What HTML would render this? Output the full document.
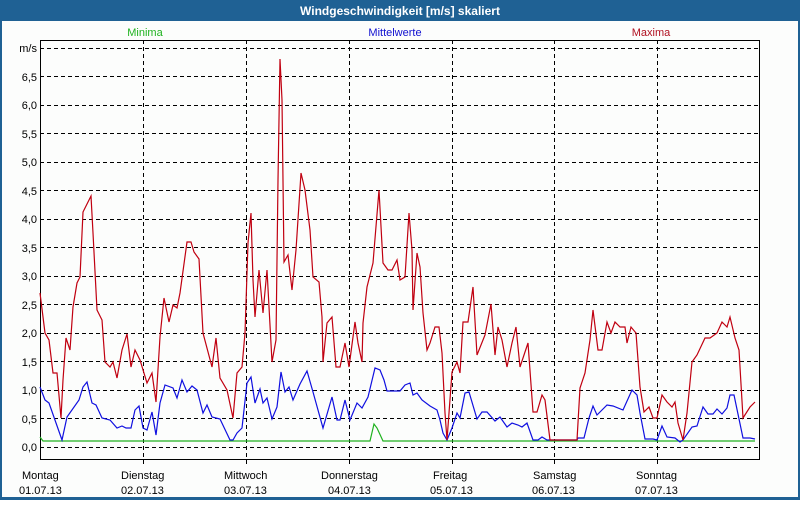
<!DOCTYPE html>
<html><head><meta charset="utf-8"><style>
body{margin:0;width:800px;height:500px;overflow:hidden;background:#fff;font-family:"Liberation Sans",sans-serif;}
</style></head><body>
<svg width="800" height="500" xmlns="http://www.w3.org/2000/svg" font-family="Liberation Sans, sans-serif">
<rect x="0" y="0" width="800" height="500" fill="#1f6194"/>
<rect x="2" y="21" width="796" height="476" fill="#fcfdfc"/>
<text x="400" y="15" fill="#fff" font-size="12" font-weight="bold" text-anchor="middle">Windgeschwindigkeit [m/s] skaliert</text>
<text x="145" y="36" fill="#1fb21f" font-size="11" text-anchor="middle">Minima</text>
<text x="395" y="36" fill="#1010d0" font-size="11" text-anchor="middle">Mittelwerte</text>
<text x="651" y="36" fill="#b01020" font-size="11" text-anchor="middle">Maxima</text>
<g stroke="#000" stroke-width="1" stroke-dasharray="4,3" fill="none">
<path d="M40 48.5H760M40 76.5H760M40 105.5H760M40 133.5H760M40 162.5H760M40 190.5H760M40 219.5H760M40 247.5H760M40 276.5H760M40 304.5H760M40 333.5H760M40 361.5H760M40 390.5H760M40 418.5H760M40 447.5H760"/>
<path d="M143.5 40V465M246.5 40V465M349.5 40V465M452.5 40V465M554.5 40V465M657.5 40V465"/>
</g>
<rect x="40.5" y="40.5" width="719" height="419" fill="none" stroke="#000"/>
<g font-size="11" fill="#000" text-anchor="end">
<text x="37" y="52">m/s</text><text x="37" y="81">6,5</text><text x="37" y="109">6,0</text><text x="37" y="138">5,5</text><text x="37" y="166">5,0</text><text x="37" y="195">4,5</text><text x="37" y="223">4,0</text><text x="37" y="252">3,5</text><text x="37" y="280">3,0</text><text x="37" y="309">2,5</text><text x="37" y="337">2,0</text><text x="37" y="366">1,5</text><text x="37" y="394">1,0</text><text x="37" y="423">0,5</text><text x="37" y="451">0,0</text>
</g>
<g font-size="11" fill="#000">
<text x="22" y="479">Montag</text><text x="19" y="494">01.07.13</text>
<text x="121" y="479">Dienstag</text><text x="121" y="494">02.07.13</text>
<text x="224" y="479">Mittwoch</text><text x="224" y="494">03.07.13</text>
<text x="321" y="479">Donnerstag</text><text x="328" y="494">04.07.13</text>
<text x="433" y="479">Freitag</text><text x="430" y="494">05.07.13</text>
<text x="533" y="479">Samstag</text><text x="532" y="494">06.07.13</text>
<text x="636" y="479">Sonntag</text><text x="635" y="494">07.07.13</text>
</g>
<polyline fill="none" stroke="#1fb21f" stroke-width="1.2" points="40,437 43,441 370,441 374,424 377,428 383,441 755,441"/>
<polyline fill="none" stroke="#1010e0" stroke-width="1.2" points="40,387 45,400 49,403 62,440 67,417 79,400 83,387 87,382 92,403 96,405 102,418 110,420 117,428 122,426 126,428 131,428 135,410 139,406 143,428 147,430 152,412 156,435 160,403 165,385 173,388 177,398 182,380 187,392 192,386 197,390 203,413 207,405 212,417 220,419 230,440 233,440 237,433 242,428 247,383 251,377 255,403 260,389 263,403 267,398 272,419 277,407 281,372 285,392 289,387 293,400 300,384 307,371 313,392 323,428 332,397 337,420 340,420 345,400 350,420 357,403 362,408 368,397 375,368 380,370 384,380 387,391 400,391 405,385 410,383 413,395 417,393 422,400 430,406 437,410 440,420 443,433 447,440 452,428 457,413 460,418 465,393 469,392 477,419 482,412 487,412 495,421 500,417 507,427 512,423 518,425 522,427 527,423 533,440 538,440 542,437 547,440 577,440 578,438 584,438 589,418 593,406 597,415 607,405 613,406 623,410 632,390 637,395 640,413 645,439 653,439 657,440 662,426 667,437 675,438 680,442 683,440 692,427 697,426 703,407 708,414 713,414 717,409 722,414 727,408 730,395 734,395 743,438 750,438 755,439"/>
<polyline fill="none" stroke="#c00010" stroke-width="1.2" points="40,293 43,317 45,333 49,340 53,373 57,373 61,418 63,380 66,338 70,350 73,307 77,283 80,277 83,212 91,196 93,233 97,310 102,320 105,362 110,367 113,362 117,378 122,350 127,334 131,367 135,350 140,360 147,383 152,373 156,402 160,337 164,298 169,322 173,305 177,308 180,293 187,242 191,242 194,252 199,259 203,333 212,367 216,338 220,378 227,390 233,418 237,373 242,367 245,333 248,243 251,213 253,280 255,317 259,270 263,313 267,270 272,362 276,340 278,180 280,59 282,100 284,262 288,255 292,290 296,250 301,173 305,190 310,230 313,277 319,282 322,317 323,362 327,323 332,317 336,367 340,367 345,343 349,367 355,322 358,343 362,362 363,323 367,287 373,263 379,190 383,263 388,270 392,270 397,260 400,280 405,277 409,213 412,250 413,310 417,253 420,267 423,313 427,350 430,343 435,327 439,327 442,353 445,413 447,440 449,413 452,372 457,362 460,373 463,322 468,322 473,287 477,355 485,335 491,304 495,355 498,327 502,340 507,367 512,343 516,327 520,367 528,343 533,412 537,412 542,395 545,400 550,440 577,440 580,388 585,373 590,340 593,310 598,350 602,350 607,322 611,333 615,322 620,327 625,327 627,343 631,327 636,333 640,387 644,412 649,407 653,418 657,418 662,395 667,402 672,407 675,402 678,423 683,440 687,413 692,362 697,355 705,338 710,338 717,333 722,322 727,327 730,317 735,338 739,350 743,418 750,407 755,402"/>
</svg>
</body></html>
